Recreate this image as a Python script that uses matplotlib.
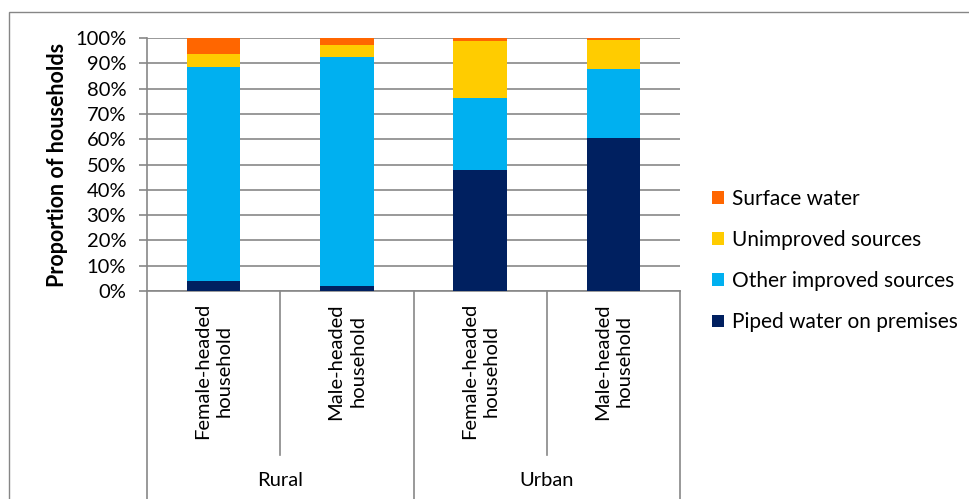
import numpy as np
import matplotlib.pyplot as plt
from matplotlib.patches import Rectangle
from matplotlib.lines import Line2D

plt.rcParams['font.family'] = ['Lato', 'DejaVu Sans']

# data (proportion of households, %)
categories = ['Female-headed\nhousehold', 'Male-headed\nhousehold',
              'Female-headed\nhousehold', 'Male-headed\nhousehold']
groups = ['Rural', 'Urban']
series_names = ['Piped water on premises', 'Other improved sources',
                'Unimproved sources', 'Surface water']
piped = [4.0, 2.0, 48.0, 60.3]
other_improved = [84.4, 90.4, 28.3, 27.4]
unimproved = [5.1, 4.7, 22.6, 11.5]
surface = [6.5, 2.9, 1.1, 0.8]
colors = ['#002060', '#00B0F0', '#FFCC00', '#FF6600']

FS = 14.5
W, H = 970, 499
fig = plt.figure(figsize=(W / 100, H / 100), dpi=100)

# chart border (extends past the image on right/bottom)
fig.patches.append(Rectangle((9 / W, -0.1), 2, 1 - 12 / H + 0.1, transform=fig.transFigure,
                             fill=False, edgecolor='#868686', linewidth=1.0))

x0, x1, y0, y1 = 147, 680, 291, 38
ax = fig.add_axes([x0 / W, 1 - y0 / H, (x1 - x0) / W, (y0 - y1) / H])

x = np.arange(len(categories))
bottom = np.zeros(len(categories))
handles = []
for name, vals, c in zip(series_names, [piped, other_improved, unimproved, surface], colors):
    b = ax.bar(x, vals, width=0.4, bottom=bottom, color=c, edgecolor='none', label=name, zorder=3)
    bottom += np.array(vals)
    handles.append(b)

ax.set_xlim(-0.5, len(categories) - 0.5)
ax.set_ylim(0, 100)
ax.set_yticks(np.arange(0, 101, 10))
ax.set_yticklabels([f'{v}%' for v in range(0, 101, 10)], fontsize=FS)
ax.yaxis.grid(True, color='#878787', linewidth=1.2, zorder=0)
ax.tick_params(axis='y', length=6, width=1.2, color='#878787', pad=9)
ax.set_xticks([])
for s in ['top', 'right']:
    ax.spines[s].set_visible(False)
ax.spines['left'].set_color('#878787')
ax.spines['left'].set_linewidth(1.2)
ax.spines['bottom'].set_color('#878787')
ax.spines['bottom'].set_linewidth(1.2)
ax.set_ylabel('Proportion of households', fontsize=15.5, fontweight='bold', labelpad=5)

# multi-level category axis
trans = ax.get_xaxis_transform()
def yfrac(py):
    return (y0 - py) / (y0 - y1)

for i, lab in enumerate(categories):
    ax.text(i, yfrac(303), lab, transform=trans, rotation=90, ha='center', va='top',
            multialignment='center', fontsize=FS, linespacing=1.35)
for i, g in enumerate(groups):
    ax.text(2 * i + 0.5, yfrac(481), g, transform=trans, ha='center', va='center', fontsize=FS)

for xs in [-0.5, 1.5, 3.5]:
    ax.add_line(Line2D([xs, xs], [0, yfrac(520)], transform=trans, color='#878787',
                       linewidth=1.2, clip_on=False))
for xs in [0.5, 2.5]:
    ax.add_line(Line2D([xs, xs], [0, yfrac(455)], transform=trans, color='#878787',
                       linewidth=1.2, clip_on=False))

leg = fig.legend(handles[::-1], series_names[::-1], loc='upper left',
                 bbox_to_anchor=(697 / W, 1 - 174 / H), frameon=False, fontsize=15,
                 handlelength=0.58, handleheight=0.58, handletextpad=0.4, labelspacing=1.02,
                 borderpad=0.2)

fig.savefig('out.png', dpi=100)
